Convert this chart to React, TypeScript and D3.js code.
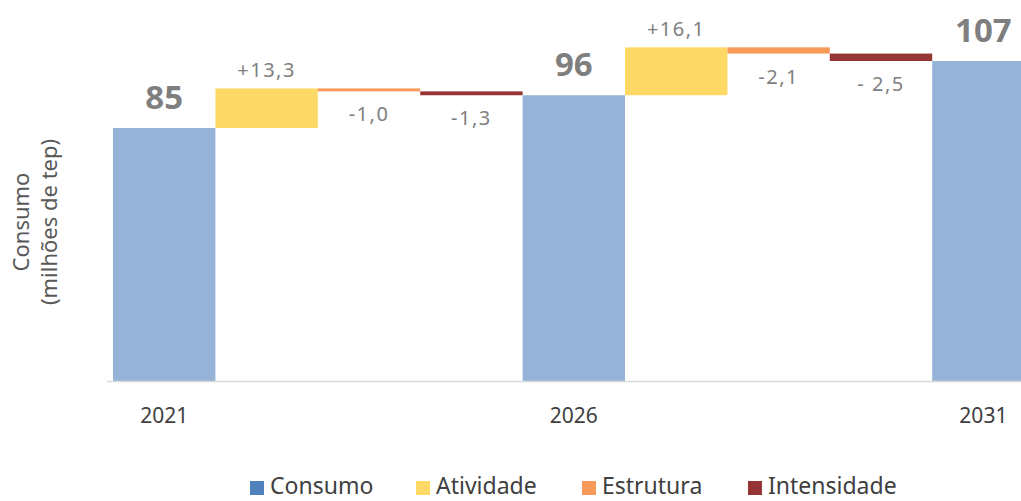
import React from 'react';
import * as d3 from 'd3';

const steps = ['2021', 'Atividade', 'Estrutura', 'Intensidade', '2026', 'Atividade', 'Estrutura', 'Intensidade', '2031'];
const stepKinds = ['Consumo', 'Atividade', 'Estrutura', 'Intensidade', 'Consumo', 'Atividade', 'Estrutura', 'Intensidade', 'Consumo'];
const totals = [85, 96, 107.5];
const totalLabels = ['85', '96', '107'];
const deltas = [13.3, -1.0, -1.3, 16.1, -2.1, -2.5];
const deltaLabels = ['+13,3', '-1,0', '-1,3', '+16,1', '-2,1', '- 2,5'];
const xTickLabels = ['2021', '2026', '2031'];
const legendItems = ['Consumo', 'Atividade', 'Estrutura', 'Intensidade'];

const barColors: Record<string, string> = {
  Consumo: '#95B3D7',
  Atividade: '#FFD966',
  Estrutura: '#F79A5A',
  Intensidade: '#963634',
};
const legendColors: Record<string, string> = {
  Consumo: '#4F81BD',
  Atividade: '#FFD966',
  Estrutura: '#F79A5A',
  Intensidade: '#963634',
};

const W = 1021;
const H = 501;
const FONT = '"Noto Sans", "Open Sans", sans-serif';

type Bar = { i: number; kind: string; y0: number; y1: number; label: string; isTotal: boolean; positive: boolean };

function buildBars(): Bar[] {
  const bars: Bar[] = [];
  let ti = 0;
  let di = 0;
  let level = 0;
  stepKinds.forEach((kind, i) => {
    if (kind === 'Consumo') {
      level = totals[ti];
      bars.push({ i, kind, y0: 0, y1: level, label: totalLabels[ti], isTotal: true, positive: true });
      ti++;
    } else {
      const d = deltas[di];
      const start = level;
      level = level + d;
      bars.push({ i, kind, y0: start, y1: level, label: deltaLabels[di], isTotal: false, positive: d >= 0 });
      di++;
    }
  });
  return bars;
}

export default function App() {
  const bars = buildBars();
  const x = d3.scaleBand<number>().domain(steps.map((_, i) => i)).range([113, 113 + 9 * 102.4]).padding(0);
  const y = d3.scaleLinear().domain([0, 128]).range([381, 0]);
  const bw = x.bandwidth();
  const tickIdx = stepKinds.map((k, i) => (k === 'Consumo' ? i : -1)).filter((i) => i >= 0);

  return (
    <svg width={W} height={H} style={{ position: 'absolute', left: 0, top: 0, background: '#fff' }} fontFamily={FONT}>
      {bars.map((b) => {
        const top = y(Math.max(b.y0, b.y1));
        const bot = y(Math.min(b.y0, b.y1));
        return (
          <rect key={'b' + b.i} x={x(b.i)} y={top} width={bw} height={Math.max(bot - top, 1)} fill={barColors[b.kind]} />
        );
      })}
      <line x1={107} x2={W} y1={381.5} y2={381.5} stroke="#D9D9D9" strokeWidth={1.5} />
      {bars.map((b) => {
        const cx = (x(b.i) as number) + bw / 2;
        if (b.isTotal) {
          return (
            <text key={'l' + b.i} x={cx} y={y(b.y1) - 19} textAnchor="middle" fontSize={33} fontWeight="bold" fill="#7F7F7F">
              {b.label}
            </text>
          );
        }
        const ty = b.positive ? y(b.y1) - 11 : y(Math.min(b.y0, b.y1)) + 30;
        return (
          <text key={'l' + b.i} x={cx} y={ty} textAnchor="middle" fontSize={20} letterSpacing={1.5} fill="#808080">
            {b.label}
          </text>
        );
      })}
      {tickIdx.map((i, k) => (
        <text key={'t' + i} x={(x(i) as number) + bw / 2} y={423} textAnchor="middle" fontSize={21} fill="#404040">
          {xTickLabels[k]}
        </text>
      ))}
      <g transform="translate(29,222) rotate(-90)">
        <text x={0} y={0} textAnchor="middle" fontSize={22} fill="#595959">Consumo</text>
      </g>
      <g transform="translate(57,222) rotate(-90)">
        <text x={0} y={0} textAnchor="middle" fontSize={22} fill="#595959">(milhões de tep)</text>
      </g>
      {legendItems.map((name, i) => {
        const lx = 250 + i * 166;
        return (
          <g key={'lg' + name} transform={`translate(${lx},0)`}>
            <rect x={0} y={481} width={14} height={14} fill={legendColors[name]} />
            <text x={20} y={494} fontSize={23} fill="#404040">{name}</text>
          </g>
        );
      })}
    </svg>
  );
}
